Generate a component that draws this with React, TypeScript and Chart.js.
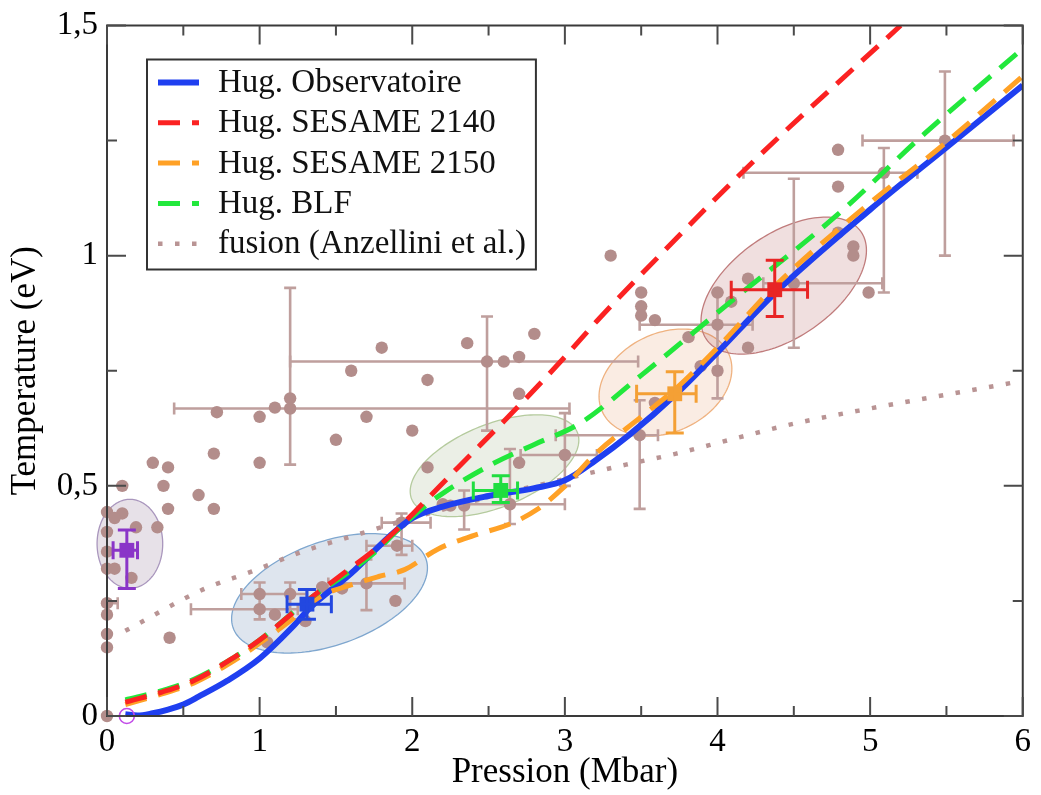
import React, { useEffect, useRef } from 'react';
import { Chart, registerables } from 'chart.js';

Chart.register(...registerables);

const FONT = '"Liberation Serif", "Times New Roman", Times, serif';

// ---------- axes ----------
const xTickValues = [0, 1, 2, 3, 4, 5, 6];
const xTickLabels = ['0', '1', '2', '3', '4', '5', '6'];
const xMinorValues = [0.5, 1.5, 2.5, 3.5, 4.5, 5.5];
const yTickValues = [0, 0.5, 1, 1.5];
const yTickLabels = ['0', '0,5', '1', '1,5'];
const yMinorValues = [0.25, 0.75, 1.25];
const xTitle = 'Pression (Mbar)';
const yTitle = 'Temperature (eV)';

// ---------- series ----------
const seriesLabels = [
  'Hug. Observatoire',
  'Hug. SESAME 2140',
  'Hug. SESAME 2150',
  'Hug. BLF',
  'fusion (Anzellini et al.)',
];

const obsP = [0.12, 0.2, 0.3, 0.4, 0.5, 0.6, 0.79, 1.0, 1.22, 1.33, 1.6, 1.85, 2.0, 2.2, 2.5, 2.8, 3.0, 3.2, 3.42, 3.73, 4.0, 4.38, 5.0, 5.5, 6.0];
const obsT = [0.004, 0.001, 0.006, 0.014, 0.025, 0.042, 0.077, 0.125, 0.195, 0.235, 0.31, 0.39, 0.43, 0.455, 0.478, 0.495, 0.512, 0.555, 0.61, 0.7, 0.79, 0.92, 1.1, 1.235, 1.37];

const s2140P = [0.12, 0.36, 0.57, 0.83, 1.0, 1.33, 1.55, 1.75, 1.9, 2.05, 2.3, 2.67, 3.0, 3.21, 3.62, 4.27, 5.2];
const s2140T = [0.03, 0.052, 0.077, 0.127, 0.165, 0.255, 0.31, 0.36, 0.405, 0.455, 0.54, 0.664, 0.78, 0.858, 1.0, 1.216, 1.5];

const s2150P = [0.12, 0.36, 0.57, 0.83, 1.0, 1.2, 1.4, 1.6, 1.78, 1.95, 2.17, 2.41, 2.64, 2.82, 2.99, 3.21, 3.5, 3.73, 4.0, 4.38, 5.0, 5.44, 6.0];
const s2150T = [0.025, 0.048, 0.072, 0.12, 0.158, 0.207, 0.26, 0.285, 0.303, 0.318, 0.363, 0.393, 0.417, 0.449, 0.496, 0.572, 0.65, 0.712, 0.8, 0.935, 1.115, 1.23, 1.39];

const blfP = [0.12, 0.36, 0.57, 0.83, 1.0, 1.33, 1.56, 1.76, 1.91, 2.1, 2.21, 2.54, 2.8, 3.1, 3.5, 4.12, 4.79, 5.36, 6.0];
const blfT = [0.035, 0.055, 0.08, 0.127, 0.165, 0.255, 0.307, 0.357, 0.406, 0.46, 0.486, 0.55, 0.59, 0.636, 0.74, 0.909, 1.09, 1.266, 1.45];

const fusionP = [0.12, 0.63, 0.95, 1.28, 1.6, 2.0, 2.5, 3.0, 3.4, 3.73, 4.08, 4.5, 5.0, 5.5, 6.0];
const fusionT = [0.185, 0.275, 0.314, 0.357, 0.39, 0.43, 0.475, 0.515, 0.546, 0.57, 0.6, 0.635, 0.668, 0.698, 0.728];

// literature data points (brown dots)
const dotsP = [0.0, 0.0, 0.1, 0.05, 0.0, 0.19, 0.33, 0.0, 0.0, 0.05, 0.16, 0.0, 0.0, 0.0, 0.41, 0.1, 0.3, 0.4, 0.37, 0.4, 0.6, 0.7, 0.7, 1.0, 1.0, 0.72, 1.1, 1.2, 1.5, 1.6, 1.8, 2.1, 2.36, 1.7, 2.0, 2.1, 2.6, 2.7, 2.8, 2.7, 2.7, 2.2, 2.25, 3.3, 3.5, 3.5, 3.5, 3.59, 3.81, 3.89, 4.0, 4.0, 4.09, 4.2, 4.2, 3.59, 4.79, 4.79, 4.79, 4.89, 4.89, 4.99, 1.05, 1.1, 1.3, 1.41, 1.54, 1.89];
const dotsT = [0.0, 0.443, 0.44, 0.43, 0.4, 0.41, 0.41, 0.357, 0.32, 0.32, 0.3, 0.22, 0.178, 0.149, 0.17, 0.5, 0.55, 0.54, 0.5, 0.45, 0.48, 0.45, 0.57, 0.55, 0.65, 0.66, 0.67, 0.69, 0.6, 0.75, 0.8, 0.73, 0.81, 0.65, 0.62, 0.54, 0.77, 0.78, 0.83, 0.7, 0.55, 0.46, 0.457, 1.0, 0.92, 0.89, 0.87, 0.86, 0.823, 0.76, 0.75, 0.92, 0.9, 0.95, 0.8, 0.68, 1.23, 1.15, 1.05, 1.02, 1.0, 0.92, 0.16, 0.22, 0.206, 0.28, 0.277, 0.25];

// literature data points with error bars
const errP = [0.0, 1.0, 1.2, 1.0, 1.7, 1.93, 1.9, 2.34, 2.64, 3.0, 3.49, 2.49, 1.2, 4.0, 4.5, 5.09, 5.49];
const errT = [0.245, 0.265, 0.265, 0.232, 0.288, 0.42, 0.37, 0.457, 0.46, 0.567, 0.61, 0.77, 0.668, 0.85, 0.94, 1.18, 1.25];
const errXlo = [0.0, 0.88, null, 0.55, 1.45, 1.8, 1.7, null, 2.34, 2.71, 2.94, 1.2, 0.44, 3.49, 4.3, 4.17, 4.95];
const errXhi = [0.07, 1.31, null, 1.25, 1.95, 2.12, 2.0, null, 3.0, 3.21, 3.61, 3.48, 3.03, 4.23, 5.08, 5.31, 5.94];
const errYlo = [null, 0.21, 0.21, null, 0.23, 0.35, null, 0.405, 0.417, 0.5, 0.45, 0.62, 0.546, 0.69, 0.8, 0.92, 1.0];
const errYhi = [null, 0.29, 0.29, null, 0.34, 0.44, null, 0.49, 0.58, 0.658, 0.686, 0.868, 0.93, 0.92, 1.167, 1.234, 1.4];

// highlighted measurements (coloured squares)
const markP = [0.13, 1.31, 2.58, 3.72, 4.375];
const markT = [0.36, 0.243, 0.49, 0.7, 0.926];
const markXlo = [0.04, 1.18, 2.4, 3.47, 4.09];
const markXhi = [0.2, 1.47, 2.69, 3.86, 4.59];
const markYlo = [0.277, 0.21, 0.464, 0.615, 0.868];
const markYhi = [0.404, 0.275, 0.522, 0.748, 0.99];

// open circle at ambient conditions
const openP = [0.13];
const openT = [0.0];

// shaded ellipses: centre, end of first semi-axis, end of conjugate semi-axis (data units)
const ellCP = [0.15, 1.458, 2.539, 3.659, 4.434];
const ellCT = [0.374, 0.2665, 0.5437, 0.7243, 0.935];
const ellAP = [0.15, 2.089, 3.082, 4.072, 4.94];
const ellAT = [0.4707, 0.342, 0.616, 0.788, 1.052];
const ellBP = [0.365, 1.574, 2.641, 3.796, 4.628];
const ellBT = [0.374, 0.161, 0.46, 0.627, 0.843];

// ---------- styles ----------
const BLUE = '#1f3ff0';
const RED = '#fb2222';
const ORANGE = '#ffa126';
const GREEN = '#22e83c';
const FUSION = '#b99494';
const DOT = '#b38d8b';
const BAR = '#bf9f9d';
const markColors = ['#8a35c8', '#2348e0', '#20dd40', '#f4a035', '#e82525'];
const ellFill = ['rgba(120,90,130,0.18)', 'rgba(70,110,160,0.18)', 'rgba(120,150,90,0.15)', 'rgba(230,150,100,0.18)', 'rgba(170,80,80,0.18)'];
const ellStroke = ['#a996bd', '#7fa7cf', '#b5cb9e', '#efb280', '#c07c7c'];

const zip = (a: number[], b: number[]) => a.map((v, i) => ({ x: v, y: b[i] }));

function drawBars(ctx: CanvasRenderingContext2D, xs: any, ys: any, p: number, t: number,
  xlo: number | null, xhi: number | null, ylo: number | null, yhi: number | null, cap: number) {
  const px = xs.getPixelForValue(p);
  const py = ys.getPixelForValue(t);
  ctx.beginPath();
  if (xlo !== null && xhi !== null) {
    const a = xs.getPixelForValue(xlo), b = xs.getPixelForValue(xhi);
    ctx.moveTo(a, py); ctx.lineTo(b, py);
    ctx.moveTo(a, py - cap); ctx.lineTo(a, py + cap);
    ctx.moveTo(b, py - cap); ctx.lineTo(b, py + cap);
  }
  if (ylo !== null && yhi !== null) {
    const a = ys.getPixelForValue(ylo), b = ys.getPixelForValue(yhi);
    ctx.moveTo(px, a); ctx.lineTo(px, b);
    ctx.moveTo(px - cap, a); ctx.lineTo(px + cap, a);
    ctx.moveTo(px - cap, b); ctx.lineTo(px + cap, b);
  }
  ctx.stroke();
}

const decorPlugin = {
  id: 'decor',
  beforeDatasetsDraw(chart: any) {
    const { ctx, scales } = chart;
    const xs = scales.x, ys = scales.y;
    ctx.save();
    for (let i = 0; i < ellCP.length; i++) {
      const cx = xs.getPixelForValue(ellCP[i]);
      const cy = ys.getPixelForValue(ellCT[i]);
      const ux = xs.getPixelForValue(ellAP[i]) - cx;
      const uy = ys.getPixelForValue(ellAT[i]) - cy;
      const vx = xs.getPixelForValue(ellBP[i]) - cx;
      const vy = ys.getPixelForValue(ellBT[i]) - cy;
      ctx.beginPath();
      const n = 160;
      for (let k = 0; k <= n; k++) {
        const a = (k / n) * Math.PI * 2;
        const px = cx + ux * Math.cos(a) + vx * Math.sin(a);
        const py = cy + uy * Math.cos(a) + vy * Math.sin(a);
        if (k === 0) ctx.moveTo(px, py); else ctx.lineTo(px, py);
      }
      ctx.closePath();
      ctx.fillStyle = ellFill[i];
      ctx.fill();
      ctx.lineWidth = 1.3;
      ctx.strokeStyle = ellStroke[i];
      ctx.stroke();
    }
    ctx.strokeStyle = BAR;
    ctx.lineWidth = 2.6;
    for (let i = 0; i < errP.length; i++) {
      drawBars(ctx, xs, ys, errP[i], errT[i], errXlo[i], errXhi[i], errYlo[i], errYhi[i], 6);
    }
    ctx.restore();
  },
  afterDatasetsDraw(chart: any) {
    const { ctx, scales } = chart;
    ctx.save();
    ctx.lineWidth = 3;
    for (let i = 0; i < markP.length; i++) {
      ctx.strokeStyle = markColors[i];
      drawBars(ctx, scales.x, scales.y, markP[i], markT[i], markXlo[i], markXhi[i], markYlo[i], markYhi[i], 9);
    }
    ctx.restore();
  },
  afterDraw(chart: any) {
    const { ctx, chartArea: ca, scales } = chart;
    const xs = scales.x, ys = scales.y;
    ctx.save();
    // frame
    ctx.strokeStyle = '#3a3a3a';
    ctx.lineWidth = 2;
    ctx.strokeRect(ca.left, ca.top, ca.right - ca.left, ca.bottom - ca.top);
    // inward ticks on all four sides
    ctx.strokeStyle = '#4a4a4a';
    ctx.beginPath();
    const tickX = (v: number, len: number) => {
      const p = xs.getPixelForValue(v);
      ctx.moveTo(p, ca.bottom); ctx.lineTo(p, ca.bottom - len);
      ctx.moveTo(p, ca.top); ctx.lineTo(p, ca.top + len);
    };
    const tickY = (v: number, len: number) => {
      const p = ys.getPixelForValue(v);
      ctx.moveTo(ca.left, p); ctx.lineTo(ca.left + len, p);
      ctx.moveTo(ca.right, p); ctx.lineTo(ca.right - len, p);
    };
    xTickValues.forEach((v) => tickX(v, 19));
    xMinorValues.forEach((v) => tickX(v, 10));
    yTickValues.forEach((v) => tickY(v, 19));
    yMinorValues.forEach((v) => tickY(v, 10));
    ctx.stroke();

    // legend
    const left = ca.left + 40;
    const top = ca.top + 34;
    ctx.font = `33px ${FONT}`;
    let maxW = 0;
    seriesLabels.forEach((s) => { maxW = Math.max(maxW, ctx.measureText(s).width); });
    const w = 71 + maxW + 10;
    const h = 210;
    ctx.fillStyle = '#ffffff';
    ctx.fillRect(left, top, w, h);
    ctx.strokeStyle = '#333333';
    ctx.lineWidth = 2;
    ctx.strokeRect(left, top, w, h);
    const ds = chart.data.datasets;
    for (let i = 0; i < seriesLabels.length; i++) {
      const d = ds[i];
      const y = top + 23 + i * 40.3;
      ctx.save();
      ctx.strokeStyle = d.borderColor;
      ctx.lineWidth = d.borderWidth;
      ctx.setLineDash(d.borderDash || []);
      ctx.lineCap = 'butt';
      ctx.beginPath();
      ctx.moveTo(left + 11, y);
      ctx.lineTo(left + 52, y);
      ctx.stroke();
      ctx.restore();
      ctx.fillStyle = '#111111';
      ctx.textBaseline = 'middle';
      ctx.textAlign = 'left';
      ctx.fillText(seriesLabels[i], left + 71, y + 1);
    }
    ctx.restore();
  },
};

export default function App() {
  const canvasRef = useRef<HTMLCanvasElement | null>(null);

  useEffect(() => {
    if (!canvasRef.current) return;
    const lineBase = { type: 'line' as const, pointRadius: 0, fill: false, cubicInterpolationMode: 'monotone' as const, borderCapStyle: 'butt' as const };
    const chart = new Chart(canvasRef.current, {
      type: 'scatter',
      data: {
        datasets: [
          { ...lineBase, label: seriesLabels[0], data: zip(obsP, obsT), borderColor: BLUE, borderWidth: 6, order: 6 },
          { ...lineBase, label: seriesLabels[1], data: zip(s2140P, s2140T), borderColor: RED, borderWidth: 5, borderDash: [22, 12], order: 3 },
          { ...lineBase, label: seriesLabels[2], data: zip(s2150P, s2150T), borderColor: ORANGE, borderWidth: 5, borderDash: [22, 12], order: 5 },
          { ...lineBase, label: seriesLabels[3], data: zip(blfP, blfT), borderColor: GREEN, borderWidth: 5, borderDash: [22, 12], order: 4 },
          { ...lineBase, label: seriesLabels[4], data: zip(fusionP, fusionT), borderColor: FUSION, borderWidth: 4.5, borderDash: [4.5, 12.5], order: 8 },
          { label: 'points', data: zip(dotsP, dotsT), pointRadius: 6.2, pointBackgroundColor: DOT, pointBorderWidth: 0, showLine: false, clip: false as any, order: 9 },
          { label: 'points err', data: zip(errP, errT), pointRadius: 6.2, pointBackgroundColor: DOT, pointBorderWidth: 0, showLine: false, clip: false as any, order: 9 },
          { label: 'mesures', data: zip(markP, markT), pointStyle: 'rect', pointRadius: 10.5, pointBackgroundColor: markColors, pointBorderWidth: 0, showLine: false, clip: false as any, order: 1 },
          { label: 'ambiant', data: zip(openP, openT), pointStyle: 'circle', pointRadius: 7.5, pointBackgroundColor: 'rgba(0,0,0,0)', pointBorderColor: '#c24be8', pointBorderWidth: 1.6, showLine: false, clip: false as any, order: 1 },
        ] as any,
      },
      options: {
        animation: false,
        responsive: true,
        maintainAspectRatio: false,
        events: [],
        layout: { padding: { top: 18, right: 13, left: 0, bottom: 0 } },
        plugins: { legend: { display: false }, tooltip: { enabled: false } },
        scales: {
          x: {
            type: 'linear',
            min: 0,
            max: 6,
            afterFit: (s: any) => { s.height = 79; },
            afterBuildTicks: (s: any) => { s.ticks = xTickValues.map((v) => ({ value: v })); },
            ticks: {
              callback: (v: any) => xTickLabels[xTickValues.indexOf(Number(v))],
              font: { family: FONT, size: 33, lineHeight: 1 },
              color: '#000',
              padding: 10,
              maxRotation: 0,
              autoSkip: false,
            },
            grid: { display: false, drawTicks: false },
            border: { display: false },
            title: { display: true, text: xTitle, color: '#000', font: { family: FONT, size: 35 }, padding: { top: 0, bottom: 1 } },
          },
          y: {
            type: 'linear',
            min: 0,
            max: 1.5,
            afterFit: (s: any) => { s.width = 107; },
            afterBuildTicks: (s: any) => { s.ticks = yTickValues.map((v) => ({ value: v })); },
            ticks: {
              callback: (v: any) => yTickLabels[yTickValues.indexOf(Number(v))],
              font: { family: FONT, size: 33, lineHeight: 1 },
              color: '#000',
              padding: 9,
              autoSkip: false,
            },
            grid: { display: false, drawTicks: false },
            border: { display: false },
            title: { display: true, text: yTitle, color: '#000', font: { family: FONT, size: 35 }, padding: { top: 5, bottom: 0 } },
          },
        },
      },
      plugins: [decorPlugin],
    });
    return () => chart.destroy();
  }, []);

  return (
    <div style={{ position: 'fixed', left: 0, top: 0, width: 1041, height: 795, background: '#fff' }}>
      <canvas ref={canvasRef} />
    </div>
  );
}
